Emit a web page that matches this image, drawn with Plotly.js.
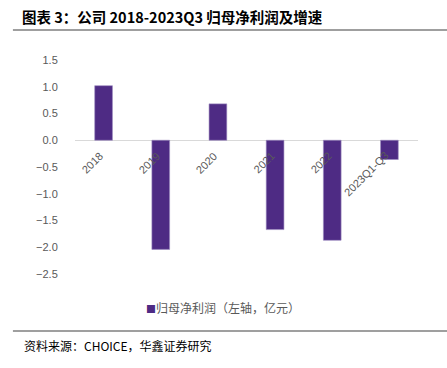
<!DOCTYPE html>
<html>
<head>
<meta charset="utf-8">
<script src="https://cdn.plot.ly/plotly-3.0.1.min.js"></script>
<style>html,body{margin:0;padding:0;background:#fff;}#chart{width:447px;height:368px;}</style>
</head>
<body>
<div id="chart"></div>
<script>
const categories = ["2018", "2019", "2020", "2021", "2022", "2023Q1-Q3"];
const netProfit = [1.02, -2.04, 0.68, -1.67, -1.87, -0.36];
const seriesName = "归母净利润（左轴，亿元）";
const titleText = "图表 3：公司 2018-2023Q3 归母净利润及增速";
const sourceText = "资料来源：CHOICE，华鑫证券研究";

const cjk = '"Noto Sans CJK SC", "Liberation Sans", sans-serif';
const gray = '#595959';
const barColor = '#4e2b84';

const trace = {
  type: 'bar',
  x: categories,
  y: netProfit,
  name: seriesName,
  marker: {color: barColor, line: {color: '#9c8cc0', width: 0.6}},
  width: 0.31,
  hoverinfo: 'x+y',
  showlegend: false
};

// category labels placed at the zero line (index positions on the category axis)
const catAnnotations = categories.map((c, i) => ({
  x: i, y: 0, xref: 'x', yref: 'y',
  text: c, showarrow: false,
  textangle: -45,
  xanchor: 'right', yanchor: 'top',
  xshift: 4, yshift: -7,
  font: {family: '"Liberation Sans", Arial, sans-serif', size: 11, color: gray}
}));

const layout = {
  width: 447, height: 368,
  margin: {l: 75, r: 29, t: 60, b: 94},
  paper_bgcolor: '#fff', plot_bgcolor: '#fff',
  font: {family: cjk, color: gray},
  title: {
    text: '<b>' + titleText + '</b>',
    xref: 'container', yref: 'container',
    x: 0.049, xanchor: 'left', y: 0.951, yanchor: 'middle',
    font: {family: cjk, size: 14.5, color: '#000'}
  },
  xaxis: {
    type: 'category', range: [-0.5, categories.length - 0.5], autorange: false,
    showticklabels: false, showgrid: false, zeroline: false, showline: false, ticks: ''
  },
  yaxis: {
    range: [-2.5, 1.5], autorange: false, dtick: 0.5, tick0: 0, tickformat: '.1f',
    showgrid: false, showline: false,
    zeroline: true, zerolinecolor: '#d9d9d9', zerolinewidth: 1,
    ticks: 'outside', ticklen: 14, tickcolor: 'rgba(0,0,0,0)',
    tickfont: {family: '"Liberation Sans", Arial, sans-serif', size: 11, color: gray}
  },
  showlegend: false,
  shapes: [
    {type: 'line', xref: 'paper', yref: 'paper', x0: -0.181, x1: 1.09, y0: 1.14, y1: 1.14,
     line: {color: '#7f7f7f', width: 1.5}},
    {type: 'line', xref: 'paper', yref: 'paper', x0: -0.181, x1: 1.09, y0: -0.266, y1: -0.266,
     line: {color: '#7f7f7f', width: 1.5}}
  ],
  annotations: catAnnotations.concat([
    {xref: 'paper', yref: 'paper', x: (223 - 75) / 343, y: (274 - 307) / 214,
     xanchor: 'center', yanchor: 'middle', showarrow: false,
     text: '<span style="color:' + barColor + ';font-size:10px">■</span>' + seriesName,
     font: {family: cjk, size: 12, color: gray}},
    {xref: 'paper', yref: 'paper', x: -0.1545, y: -0.336, xanchor: 'left', yanchor: 'middle',
     text: sourceText, showarrow: false, font: {family: cjk, size: 12, color: '#000'}}
  ])
};

Plotly.newPlot('chart', [trace], layout, {displayModeBar: false, staticPlot: true});
</script>
</body>
</html>
